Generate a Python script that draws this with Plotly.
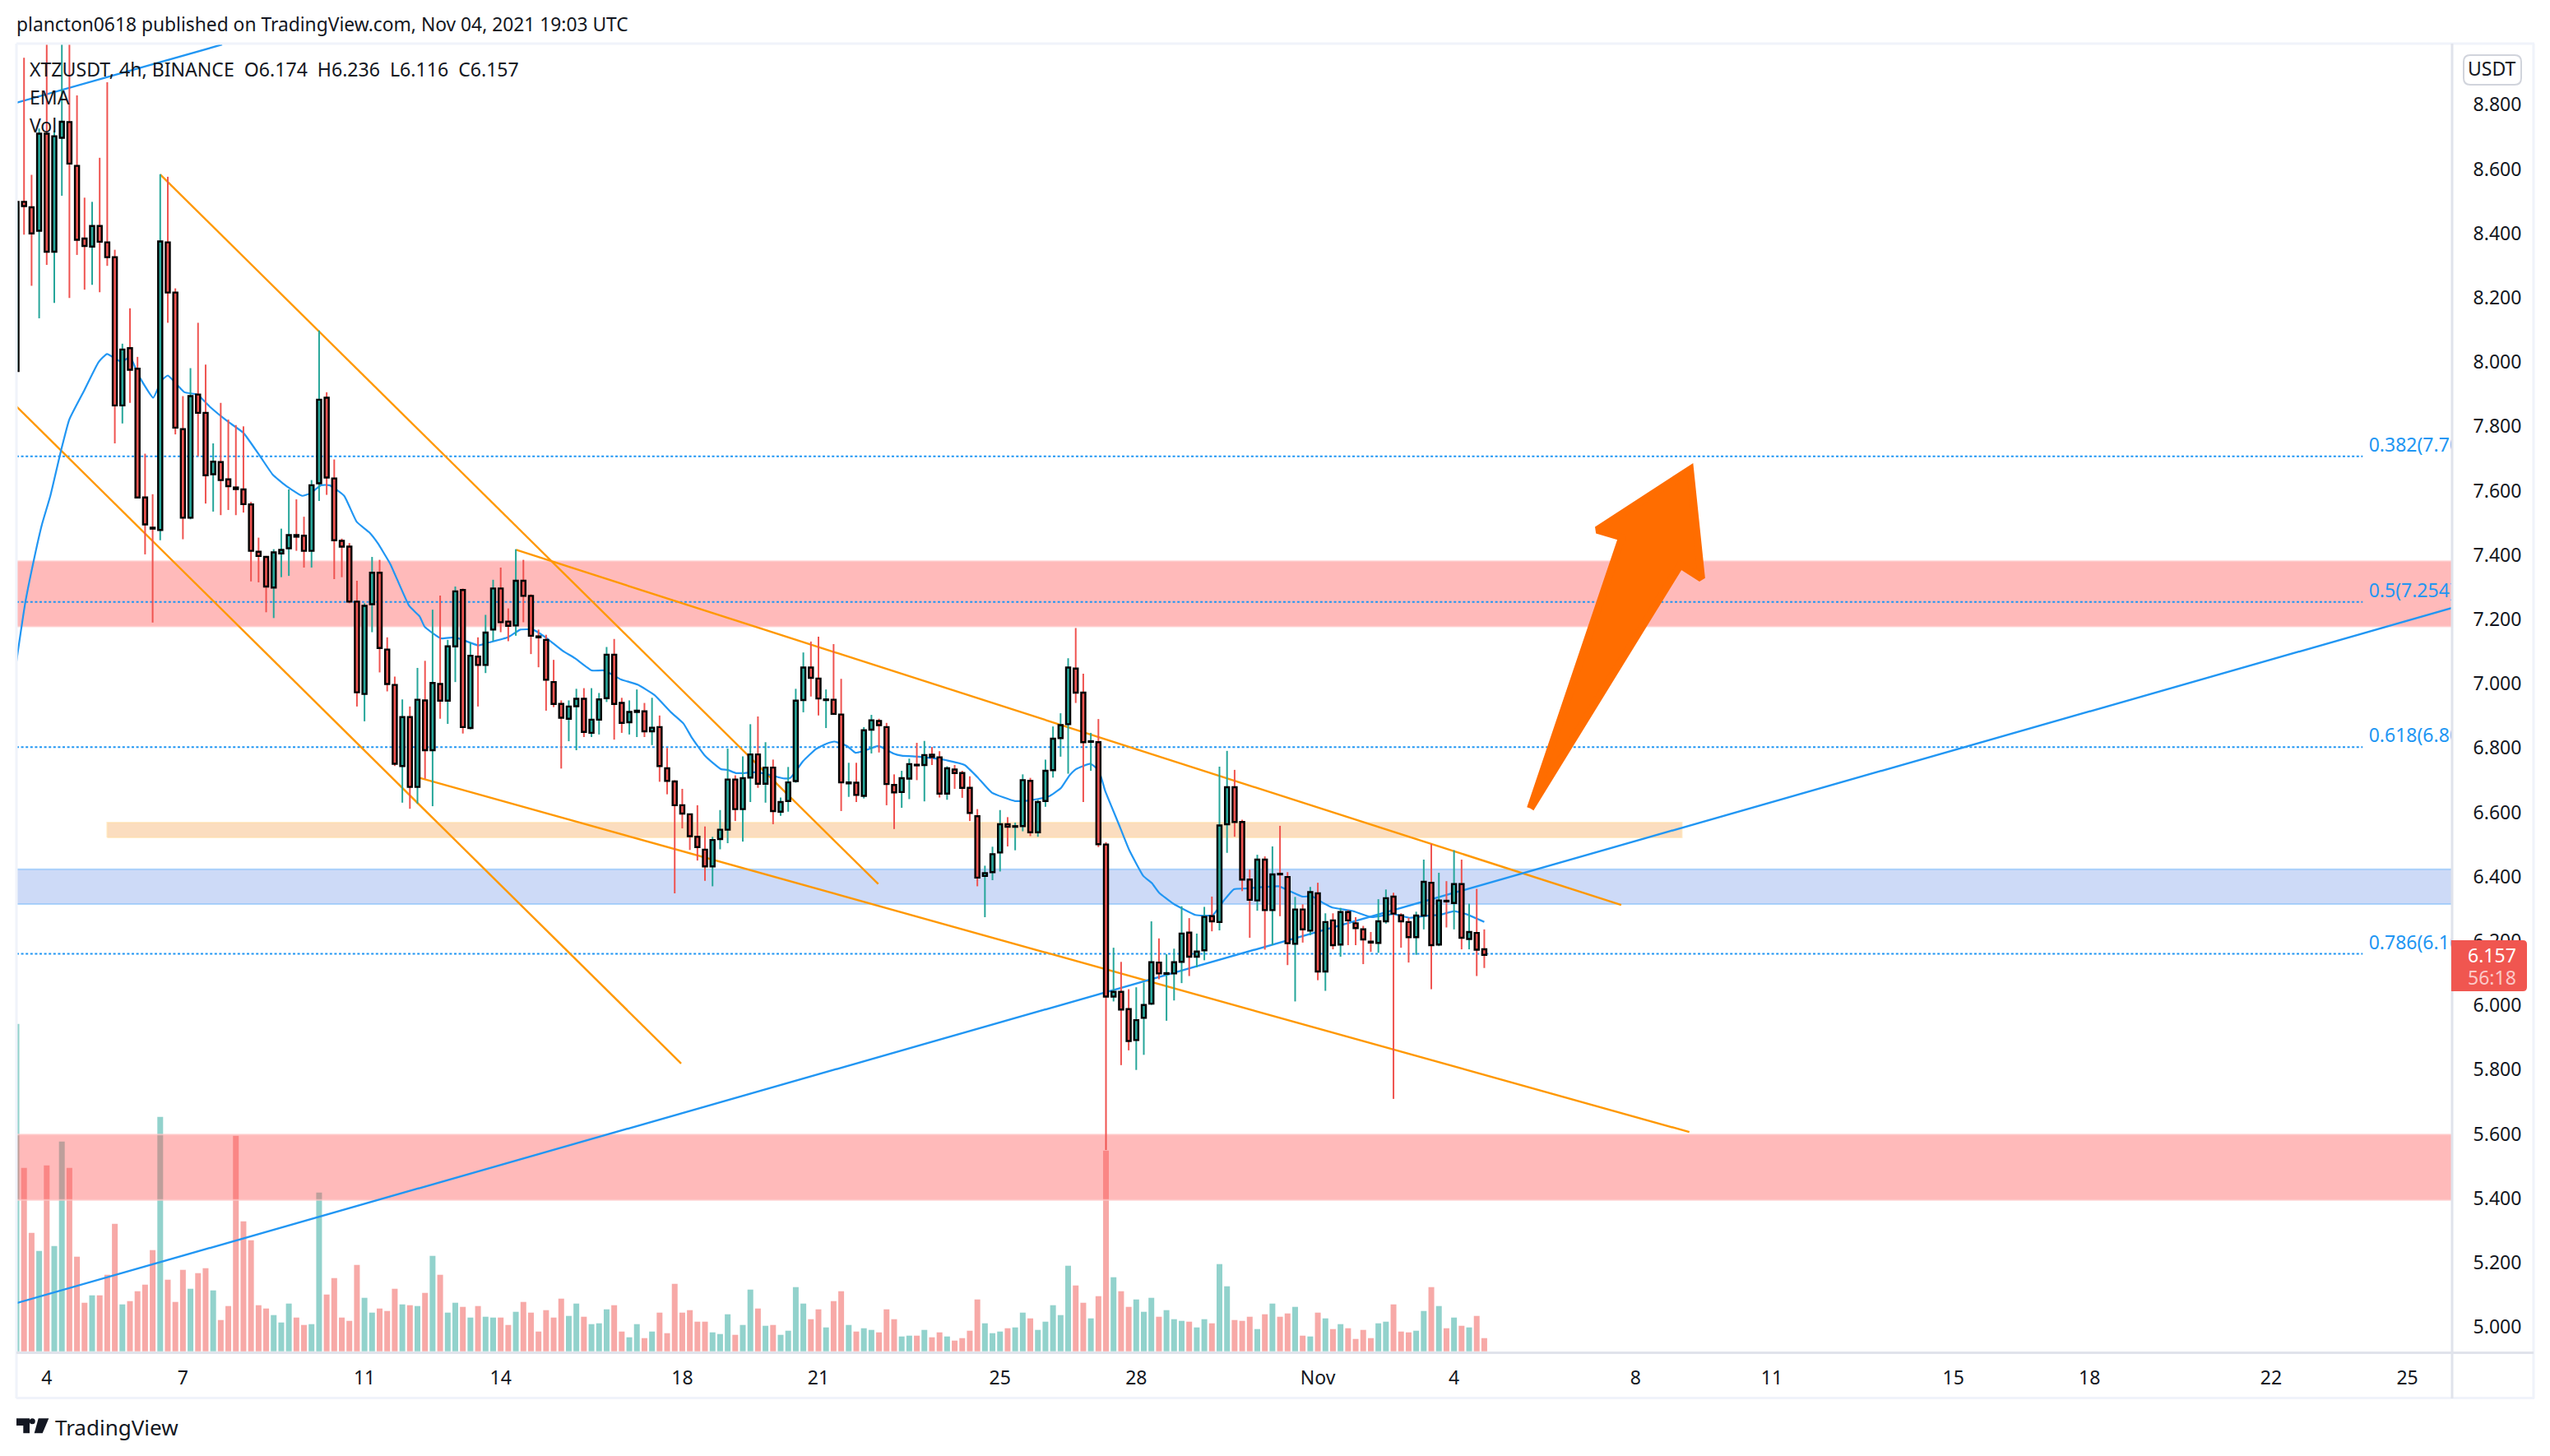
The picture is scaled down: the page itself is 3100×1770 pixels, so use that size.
import plotly.graph_objects as go

# ---- data (bar index 0 = 4 Oct 00:00, one bar = 4h) ----
first_bar = -4
opens = [7.972,8.498,8.481,8.408,
8.710,8.343,8.697,8.746,8.610,8.384,8.359,8.423,8.372,8.326,
7.865,8.043,7.979,7.579,7.485,7.478,8.372,8.216,7.791,7.516,
7.899,7.842,7.651,7.689,7.635,7.610,7.604,7.557,7.410,7.394,
7.299,7.405,7.421,7.462,7.460,7.413,7.623,7.889,7.638,7.444,
7.426,7.255,6.968,7.247,7.345,7.106,6.996,6.744,6.896,6.679,
6.948,6.793,6.999,6.947,7.116,7.291,6.862,7.084,7.058,7.168,
7.296,7.193,7.181,7.320,7.273,7.147,7.136,7.005,6.937,6.891,
6.930,6.953,6.847,6.888,6.955,7.090,6.940,6.880,6.912,6.914,
6.852,6.865,6.737,6.696,6.622,6.594,6.524,6.484,6.432,6.517,
6.546,6.702,6.610,6.708,6.780,6.689,6.739,6.602,6.635,6.697,
6.949,7.050,7.016,6.949,6.950,6.904,6.690,6.692,6.651,6.857,
6.884,6.865,6.685,6.663,6.705,6.748,6.747,6.779,6.771,6.658,
6.733,6.722,6.676,6.588,6.402,6.414,6.475,6.563,6.555,6.557,
6.698,6.538,6.635,6.731,6.831,6.874,7.047,6.972,6.819,6.818,
6.500,6.027,6.042,5.988,5.892,5.961,6.005,6.133,6.098,6.099,
6.135,6.226,6.151,6.171,6.277,6.259,6.563,6.678,6.570,6.391,
6.326,6.453,6.296,6.409,6.399,6.191,6.298,6.232,6.348,6.105,
6.264,6.189,6.290,6.255,6.236,6.198,6.194,6.261,6.338,6.280,
6.259,6.212,6.279,6.381,6.189,6.325,6.318,6.377,6.206,6.225,6.174]
closes = [8.498,8.485,8.400,8.710,
8.343,8.702,8.747,8.617,8.380,8.361,8.423,8.374,8.326,7.865,
8.039,7.976,7.579,7.495,7.482,8.375,8.216,7.796,7.516,7.894,
7.842,7.648,7.690,7.633,7.614,7.605,7.558,7.413,7.397,7.302,
7.408,7.416,7.462,7.457,7.413,7.617,7.883,7.641,7.446,7.426,
7.255,6.973,7.242,7.345,7.111,6.999,6.751,6.896,6.679,6.950,
6.793,7.002,6.947,7.116,7.287,6.865,7.087,7.058,7.159,7.296,
7.191,7.180,7.320,7.273,7.149,7.144,7.012,6.937,6.894,6.929,
6.953,6.850,6.888,6.951,7.090,6.937,6.878,6.912,6.916,6.852,
6.863,6.744,6.698,6.622,6.596,6.526,6.492,6.432,6.514,6.546,
6.702,6.610,6.706,6.780,6.689,6.739,6.604,6.632,6.693,6.947,
7.050,7.018,6.954,6.951,6.906,6.693,6.693,6.654,6.855,6.886,
6.871,6.688,6.662,6.706,6.750,6.746,6.778,6.772,6.658,6.737,
6.722,6.676,6.598,6.397,6.411,6.470,6.563,6.555,6.557,6.700,
6.538,6.632,6.729,6.829,6.871,7.050,6.972,6.818,6.821,6.501,
6.027,6.042,5.987,5.889,5.954,6.001,6.134,6.099,6.100,6.134,
6.223,6.151,6.167,6.275,6.261,6.559,6.678,6.570,6.391,6.328,
6.453,6.296,6.407,6.407,6.193,6.298,6.236,6.352,6.105,6.259,
6.187,6.290,6.264,6.240,6.205,6.195,6.261,6.333,6.285,6.261,
6.212,6.279,6.384,6.187,6.326,6.323,6.377,6.210,6.228,6.173,6.157]
highs = [8.498,8.946,8.582,8.726,
9.050,8.720,9.050,9.050,8.829,8.511,8.498,8.635,8.870,8.349,
8.057,8.167,8.016,7.715,7.589,8.584,8.576,8.229,7.894,7.981,
8.122,7.992,7.747,7.873,7.821,7.804,7.800,7.565,7.454,7.397,
7.418,7.482,7.604,7.573,7.519,7.633,8.098,7.906,7.697,7.451,
7.437,7.320,7.250,7.394,7.385,7.144,7.022,6.951,6.929,7.049,
7.071,7.230,7.274,7.136,7.302,7.296,7.128,7.144,7.214,7.323,
7.361,7.234,7.418,7.385,7.278,7.168,7.152,7.074,6.948,6.948,
6.984,6.986,6.986,6.971,7.114,7.139,6.956,6.948,6.982,6.940,
6.956,6.901,6.800,6.700,6.673,6.596,6.622,6.556,6.524,6.607,
6.798,6.715,6.774,6.874,6.898,6.818,6.764,6.646,6.741,6.984,
7.097,7.131,7.146,6.982,7.123,7.015,6.754,6.754,6.865,6.903,
6.891,6.878,6.718,6.729,6.767,6.816,6.822,6.803,6.790,6.743,
6.747,6.729,6.712,6.610,6.434,6.493,6.607,6.585,6.568,6.718,
6.707,6.639,6.764,6.867,6.908,7.079,7.173,7.031,6.847,6.890,
6.507,6.179,6.135,6.050,6.056,6.071,6.261,6.208,6.159,6.176,
6.308,6.271,6.223,6.306,6.338,6.742,6.791,6.732,6.577,6.422,
6.468,6.463,6.494,6.558,6.414,6.337,6.314,6.368,6.381,6.286,
6.286,6.303,6.296,6.274,6.247,6.228,6.330,6.360,6.350,6.286,
6.272,6.291,6.453,6.502,6.412,6.386,6.482,6.453,6.316,6.362,6.236]
lows = [7.972,8.396,8.237,8.136,
8.302,8.184,8.517,8.199,8.333,8.225,8.240,8.217,8.299,7.747,
7.809,7.873,7.579,7.402,7.190,7.446,8.122,7.775,7.449,7.511,
7.707,7.560,7.535,7.524,7.540,7.524,7.532,7.318,7.315,7.222,
7.204,7.331,7.335,7.413,7.361,7.361,7.568,7.587,7.325,7.331,
7.250,6.929,6.883,7.160,7.035,6.976,6.744,6.630,6.611,6.627,
6.704,6.619,6.891,6.875,7.005,6.845,6.858,6.929,7.033,7.132,
7.160,7.132,7.149,7.191,7.092,7.051,6.916,6.927,6.736,6.821,
6.793,6.834,6.834,6.842,6.943,6.826,6.847,6.842,6.834,6.834,
6.809,6.695,6.656,6.348,6.550,6.483,6.450,6.387,6.370,6.485,
6.504,6.573,6.509,6.632,6.676,6.630,6.563,6.589,6.602,6.692,
6.911,6.960,6.901,6.862,6.906,6.604,6.648,6.632,6.643,6.783,
6.786,6.622,6.548,6.614,6.641,6.700,6.634,6.747,6.646,6.639,
6.673,6.645,6.573,6.370,6.274,6.389,6.416,6.494,6.482,6.541,
6.526,6.524,6.617,6.708,6.773,6.720,6.940,6.632,6.729,6.492,
5.550,6.012,5.814,5.860,5.799,5.846,6.001,6.081,5.952,6.015,
6.069,6.091,6.118,6.140,6.230,6.233,6.474,6.524,6.355,6.210,
6.294,6.173,6.187,6.277,6.125,6.012,6.195,6.218,6.078,6.045,
6.174,6.151,6.187,6.187,6.128,6.166,6.163,6.254,5.709,6.179,
6.133,6.157,6.236,6.050,6.184,6.242,6.236,6.174,6.174,6.091,6.116]
volumes = [398,223,144,122,
226,128,255,223,115,59,68,68,93,155,
57,61,73,81,123,285,87,60,99,76,
95,101,74,38,55,262,158,135,56,52,
44,35,58,41,32,33,193,69,89,41,
37,105,65,47,52,49,76,57,56,55,
71,116,93,47,59,54,41,55,42,41,
41,32,48,60,47,24,50,41,64,43,
58,42,33,34,51,56,24,17,33,16,
24,47,22,82,47,50,36,36,23,21,
45,20,32,75,52,31,32,20,25,78,
58,39,51,29,61,73,32,24,28,26,
23,51,39,18,19,19,26,17,23,18,
13,16,25,63,34,22,24,28,29,47,
40,26,36,56,44,104,80,59,40,67,
244,90,73,54,63,48,65,42,50,39,
37,36,29,39,34,106,79,38,37,42,
27,45,58,42,46,54,19,18,47,40,
27,33,28,15,26,16,34,36,57,24,
23,25,49,78,55,28,41,31,29,43,16]

ema_x = [-4,-2.85,-1.74,-0.63,0.48,1.87,2.98,4.92,6.86,7.97,9.91,11.02,12.13,14.07,15.18,16.01,18.22,19.89,21.56,24.05,25.99,28.2,29.87,31.53,33.75,34.87,36.25,37.37,39.31,40.97,42.64,43.74,45.41,47.9,49.29,49.95,52.06,54.0,57.05,58.44,60.94,62.6,64.26,65.93,68.15,69.81,72.03,73.7,75.9,78.1,80.35,82.5,84.16,85.27,86.93,88.04,89.15,89.98,91.09,92.2,93.86,95.8,97.47,98.3,99.97,101.63,103.02,104.12,105.79,106.9,108.0,109.95,111.89,113.0,115.2,117.44,119.1,121.32,122.98,124.92,127.97,129.64,132.41,134.07,135.19,136.02,137.96,139.07,139.9,141.61,143.07,144.94,146.06,147.02,148.89,151.81,154.09,155.55,156.92,158.46,160.96,162.83,164.29,165.95,167.2,168.87,169.91,172.61,175.11,178.02,180.1,182.19,184.27,186.01,187.8,190.0]
ema_y = [7.07,7.25,7.38,7.495,7.584,7.723,7.821,7.91,8.0,8.025,8.0,8.016,7.959,7.889,7.943,7.958,7.906,7.899,7.861,7.813,7.78,7.707,7.65,7.617,7.584,7.592,7.617,7.617,7.584,7.503,7.47,7.437,7.372,7.242,7.209,7.177,7.141,7.144,7.119,7.128,7.144,7.168,7.168,7.144,7.103,7.079,7.041,7.041,7.013,6.997,6.964,6.911,6.876,6.832,6.778,6.754,6.734,6.732,6.722,6.722,6.725,6.715,6.705,6.707,6.759,6.796,6.813,6.82,6.806,6.785,6.791,6.806,6.783,6.776,6.773,6.767,6.761,6.747,6.71,6.661,6.635,6.636,6.649,6.676,6.715,6.734,6.751,6.729,6.666,6.568,6.483,6.402,6.38,6.35,6.316,6.281,6.28,6.325,6.361,6.363,6.368,6.37,6.355,6.338,6.339,6.316,6.304,6.293,6.274,6.284,6.272,6.278,6.282,6.293,6.282,6.259]

x_ticks = [0,18,42,60,84,102,126,144,168,186,210,228,252,270,294,312]
x_labels = ["4","7","11","14","18","21","25","28","Nov","4","8","11","15","18","22","25"]
y_ticks = [5.0,5.2,5.4,5.6,5.8,6.0,6.2,6.4,6.6,6.8,7.0,7.2,7.4,7.6,7.8,8.0,8.2,8.4,8.6,8.8]

fib_levels = [7.707,7.254,6.803,6.160]
fib_labels = ["0.382(7.707)","0.5(7.254)","0.618(6.803)","0.786(6.160)"]

band_names = ["upper_red","orange","blue","lower_red"]
band_low = [7.178,6.522,6.315,5.395]
band_high = [7.381,6.568,6.423,5.598]
band_from = [-4,8,-4,-4]
band_to = [318,216.1,318,318]

orange_lines = [((-4,7.862),(83.85,5.819)),((15,8.583),(109.9,6.377)),((62.05,7.416),(208.1,6.312)),((49.28,6.707),(217.1,5.606))]
blue_lines = [((-4,5.074),(318,7.236)),((-4,8.806),(23.18,8.987))]
arrow_x = [196.1,208.2,204.9,217.2,218.7,215.9,196.1]
arrow_y = [6.612,7.455,7.478,7.666,7.327,7.369,6.612]

# ---- styling ----
FONT = "Noto Sans"
INK = "#131722"
UP, DOWN = "#26a69a", "#ef5350"
UPV, DOWNV = "rgba(38,166,154,0.5)", "rgba(239,83,80,0.5)"
BLUE = "#2196f3"
ORANGE = "#ff9800"
W, H, L, R, T, B = 3100, 1770, 20, 2981, 54, 1645
XR = [(L-56.8)/9.198, (R-56.8)/9.198]
YR = [8.8-(B-127.3)/391, 8.8-(T-127.3)/391]
VR = [-2.3, 1588.7]
band_fill = {"upper_red":"rgba(255,82,82,0.4)","lower_red":"rgba(255,82,82,0.4)","orange":"rgba(240,120,0,0.25)","blue":"rgba(41,98,220,0.234)"}
band_edge = {"upper_red":"rgba(255,200,200,0.7)","lower_red":"rgba(255,200,200,0.7)","orange":"rgba(255,224,170,0.6)","blue":"rgba(130,190,250,0.6)"}

def px(x): return (x-L)/(R-L)
def py(y): return (B-y)/(B-T)

bars = list(range(first_bar, first_bar+len(opens)))
up = [c >= o for o, c in zip(opens, closes)]

fig = go.Figure()
# volume, lowest layer
fig.add_bar(x=bars, y=volumes, width=0.76, marker=dict(color=[UPV if u else DOWNV for u in up], line=dict(width=0)),
            xaxis="x", yaxis="y", hoverinfo="skip")
# bands
for n, lo, hi, a, b in zip(band_names, band_low, band_high, band_from, band_to):
    fig.add_scatter(x=[a,b,b,a,a], y=[lo,lo,hi,hi,lo], mode="lines", fill="toself", fillcolor=band_fill[n],
                    line=dict(color=band_edge[n], width=2), xaxis="x", yaxis="y2", hoverinfo="skip")
# fib levels
for lv, lb in zip(fib_levels, fib_labels):
    fig.add_scatter(x=[XR[0],306.1], y=[lv,lv], mode="lines", line=dict(color=BLUE, width=2, dash="3px,2.6px"),
                    xaxis="x", yaxis="y2", hoverinfo="skip")
    fig.add_scatter(x=[306.9], y=[lv], mode="text", text=[lb], textposition="top right",
                    textfont=dict(family=FONT, size=23, color=BLUE), cliponaxis=True, xaxis="x", yaxis="y2", hoverinfo="skip")
# trend lines
for col, group in ((ORANGE, orange_lines), (BLUE, blue_lines)):
    for p, q in group:
        fig.add_scatter(x=[p[0],q[0]], y=[p[1],q[1]], mode="lines", line=dict(color=col, width=2.4),
                        xaxis="x", yaxis="y2", hoverinfo="skip")
fig.add_scatter(x=ema_x, y=ema_y, mode="lines", line=dict(color=BLUE, width=2.2, shape="spline", smoothing=0.4),
                xaxis="x", yaxis="y2", hoverinfo="skip")
# wicks
for flag, col in ((True, UP), (False, DOWN)):
    wx, wy = [], []
    for b, u, h, l in zip(bars, up, highs, lows):
        if u == flag:
            wx += [b, b, None]; wy += [l, h, None]
    fig.add_scatter(x=wx, y=wy, mode="lines", line=dict(color=col, width=2), xaxis="x", yaxis="y2", hoverinfo="skip")
# bodies, top layer
fig.add_bar(x=bars, base=[min(o,c) for o,c in zip(opens,closes)], y=[abs(c-o) for o,c in zip(opens,closes)],
            width=0.55, marker=dict(color=[UP if u else DOWN for u in up], line=dict(color="#000000", width=2.4)),
            xaxis="x", yaxis="y3", hoverinfo="skip")
fig.add_scatter(x=arrow_x, y=arrow_y, mode="lines", fill="toself", fillcolor="#ff6d00", line=dict(color="#ff6d00", width=9),
                xaxis="x", yaxis="y3", hoverinfo="skip")

def frame(x0,y0,x1,y1,col,w):
    return dict(type="line", xref="paper", yref="paper", x0=px(x0), y0=py(y0), x1=px(x1), y1=py(y1), line=dict(color=col, width=w), layer="above")

def rrect(x0,y0,x1,y1,rl,rr):
    a,b,c,d = px(x0),py(y0),px(x1),py(y1)
    dxl, dyl = rl/(R-L), rl/(B-T)
    dxr, dyr = rr/(R-L), rr/(B-T)
    return (f"M{a+dxl},{b} L{c-dxr},{b} Q{c},{b} {c},{b-dyr} L{c},{d+dyr} Q{c},{d} {c-dxr},{d} "
            f"L{a+dxl},{d} Q{a},{d} {a},{d+dyl} L{a},{b-dyl} Q{a},{b} {a+dxl},{b} Z")

def poly(pts):
    return "M" + " L".join(f"{px(x)},{py(y)}" for x,y in pts) + " Z"

shapes = [
    frame(20,53,3081,53,"#f0f3fa",3), frame(20,53,20,1700,"#f0f3fa",3),
    frame(3080,53,3080,1700,"#f0f3fa",3), frame(20,1699.5,3081,1699.5,"#f0f3fa",3),
    frame(20,1644.5,3080,1644.5,"#e0e3eb",3), frame(2981,53,2981,1700,"#e0e3eb",3),
    dict(type="path", xref="paper", yref="paper", path=rrect(2995,67,3065,103,8,8), line=dict(color="#d1d4dc", width=2), fillcolor="#ffffff", layer="above"),
    dict(type="path", xref="paper", yref="paper", path=rrect(2980,1143,3072,1205,0.01,5), line=dict(width=0), fillcolor="#f05650", layer="above"),
    dict(type="path", xref="paper", yref="paper", path=poly([(20,1724.3),(36,1724.3),(36,1742.3),(28.3,1742.3),(28.3,1733),(20,1733)]), line=dict(width=0), fillcolor=INK, layer="above"),
    dict(type="circle", xref="paper", yref="paper", x0=px(35.8), x1=px(42.8), y0=py(1724.3), y1=py(1731.3), line=dict(width=0), fillcolor=INK, layer="above"),
    dict(type="path", xref="paper", yref="paper", path=poly([(46.7,1724.3),(59.3,1724.3),(51.7,1742.3),(41.7,1742.3)]), line=dict(width=0), fillcolor=INK, layer="above"),
]

def note(text,x,y,size=23,color=INK,anchor="left"):
    return dict(text=text, xref="paper", yref="paper", x=px(x), y=py(y), xanchor=anchor, yanchor="middle", showarrow=False,
                font=dict(family=FONT, size=size, color=color), borderpad=0)

sp = "\u00a0\u00a0"
annotations = [
    note("plancton0618 published on TradingView.com, Nov 04, 2021 19:03 UTC",19,30,size=22.8),
    note(f"XTZUSDT, 4h, BINANCE{sp}O6.174{sp}H6.236{sp}L6.116{sp}C6.157",35,84,size=23.1),
    note("EMA",35,118), note("Vol",35,152),
    note("USDT",3030,83,anchor="center"),
    note("6.157",3030,1161,color="#ffffff",anchor="center"),
    note("56:18",3030,1188,color="#fbc9c8",anchor="center"),
    note("TradingView",66,1735,size=26),
]

tick_font = dict(family=FONT, size=23, color=INK)
fig.update_layout(
    width=W, height=H, margin=dict(l=L, r=W-R, t=T, b=H-B, autoexpand=False, pad=0),
    paper_bgcolor="#ffffff", plot_bgcolor="#ffffff", showlegend=False, barmode="overlay",
    shapes=shapes, annotations=annotations,
    xaxis=dict(range=XR, tickmode="array", tickvals=x_ticks, ticktext=x_labels, tickfont=tick_font,
               ticks="outside", ticklen=9, tickcolor="rgba(0,0,0,0)", showgrid=False, zeroline=False, showline=False),
    yaxis=dict(range=VR, visible=False, showgrid=False, zeroline=False),
    yaxis2=dict(range=YR, overlaying="y", visible=False, showgrid=False, zeroline=False),
    yaxis3=dict(range=YR, overlaying="y", side="right", tickmode="array", tickvals=y_ticks, ticktext=[f"{v:.3f}" for v in y_ticks],
                tickfont=tick_font, ticks="outside", ticklen=20, tickcolor="rgba(0,0,0,0)", showgrid=False, zeroline=False, showline=False),
)
fig.write_html("out.html", config={"displayModeBar": False},
               post_script="document.body.style.margin='0';document.documentElement.style.overflow='hidden';")
